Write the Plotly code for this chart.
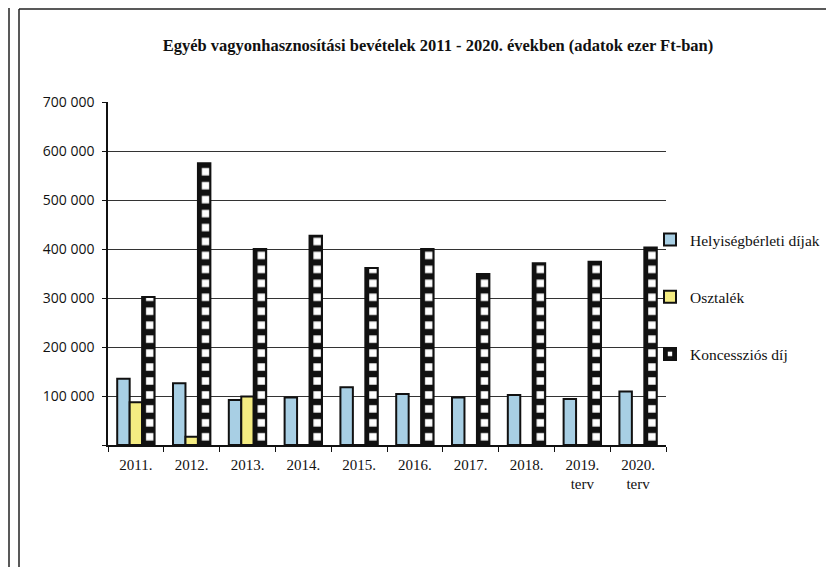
import plotly.graph_objects as go

categories = ["2011.", "2012.", "2013.", "2014.", "2015.", "2016.", "2017.", "2018.", "2019.<br>terv", "2020.<br>terv"]
helyiseg = [135000, 126000, 92000, 97000, 118000, 104000, 97000, 102000, 94000, 109000]
osztalek = [87000, 17000, 99000, 0, 0, 0, 0, 0, 0, 0]
koncesszio = [302000, 575000, 400000, 427000, 361000, 400000, 349000, 371000, 374000, 403000]
series_names = ["Helyiségbérleti díjak", "Osztalék", "Koncessziós díj"]
y_ticks = [0, 100000, 200000, 300000, 400000, 500000, 600000, 700000]
y_tick_labels = ["", "100 000", "200 000", "300 000", "400 000", "500 000", "600 000", "700 000"]

serif = "Liberation Serif, Times New Roman, serif"

# The page body has an 8px margin, so figure coordinates = page coordinates - 8
OFF = 8
W, H = 834 - OFF, 567 - OFF
L, T = 108 - OFF, 102 - OFF
PR, PB = 666 - OFF, 445 - OFF
R, B = W - PR, H - PB
pw, ph = PR - L, PB - T

# pattern period chosen so each category holds 4 tiles (same look in every bar)
pattern_size = pw / len(categories) / 4

fig = go.Figure()
fig.add_trace(go.Bar(
    x=categories, y=helyiseg, name=series_names[0], legendgroup="a",
    marker=dict(color="#a8cfe4", line=dict(color="#111111", width=2)),
))
fig.add_trace(go.Bar(
    x=categories, y=osztalek, name=series_names[1], legendgroup="b",
    marker=dict(color="#f4ec82", line=dict(color="#111111", width=2)),
))
fig.add_trace(go.Bar(
    x=categories, y=koncesszio, name=series_names[2], legendgroup="c",
    marker=dict(color="#111111", line=dict(color="#111111", width=2),
                pattern=dict(shape="+", fgcolor="#111111", bgcolor="#ffffff", fgopacity=1,
                             size=pattern_size, solidity=0.7, fillmode="replace")),
))

def px_x(px):
    return (px - OFF - L) / pw

def px_y(py):
    return (PB - (py - OFF)) / ph

shapes = [
    dict(type="line", xref="paper", yref="paper", x0=px_x(9), x1=px_x(9), y0=px_y(8), y1=px_y(570),
         line=dict(color="#222222", width=1.5)),
    dict(type="line", xref="paper", yref="paper", x0=px_x(19), x1=px_x(19), y0=px_y(9), y1=px_y(570),
         line=dict(color="#222222", width=1.5)),
    dict(type="line", xref="paper", yref="paper", x0=px_x(19), x1=px_x(840), y0=px_y(9), y1=px_y(9),
         line=dict(color="#222222", width=1.5)),
]

fig.update_layout(
    width=W, height=H,
    margin=dict(l=L, r=R, t=T, b=B, autoexpand=False),
    paper_bgcolor="white", plot_bgcolor="white",
    barmode="group", bargap=0.33, bargroupgap=0,
    separators=", ",
    title=dict(text="<b>Egyéb vagyonhasznosítási bevételek 2011 - 2020. években (adatok ezer Ft-ban)</b>",
               x=(438 - OFF) / W, xanchor="center", y=1 - (45 - OFF) / H, yanchor="middle",
               font=dict(family=serif, size=16.5, color="#111111")),
    legend=dict(x=px_x(650), xanchor="left", y=px_y(223), yanchor="top",
                font=dict(family=serif, size=15.5, color="#111111"),
                tracegroupgap=34, itemwidth=30, bgcolor="rgba(0,0,0,0)"),
    shapes=shapes,
    showlegend=True,
)
fig.update_xaxes(
    type="category", showline=True, linecolor="#111111", linewidth=1.5,
    ticks="outside", tickson="boundaries", ticklen=5, tickcolor="#111111",
    ticklabelstandoff=5,
    tickfont=dict(family=serif, size=15, color="#111111"),
    showgrid=False, zeroline=False,
)
fig.update_yaxes(
    range=[0, 700000], tickmode="array", tickvals=y_ticks, ticktext=y_tick_labels,
    showline=True, linecolor="#111111", linewidth=1.5,
    ticks="outside", ticklen=4, tickcolor="#111111",
    ticklabelstandoff=5,
    showgrid=True, gridcolor="#333333", gridwidth=1,
    tickfont=dict(family="Open Sans", size=14, color="#111111"),
    zeroline=False,
)

fig.write_html("out.html")
